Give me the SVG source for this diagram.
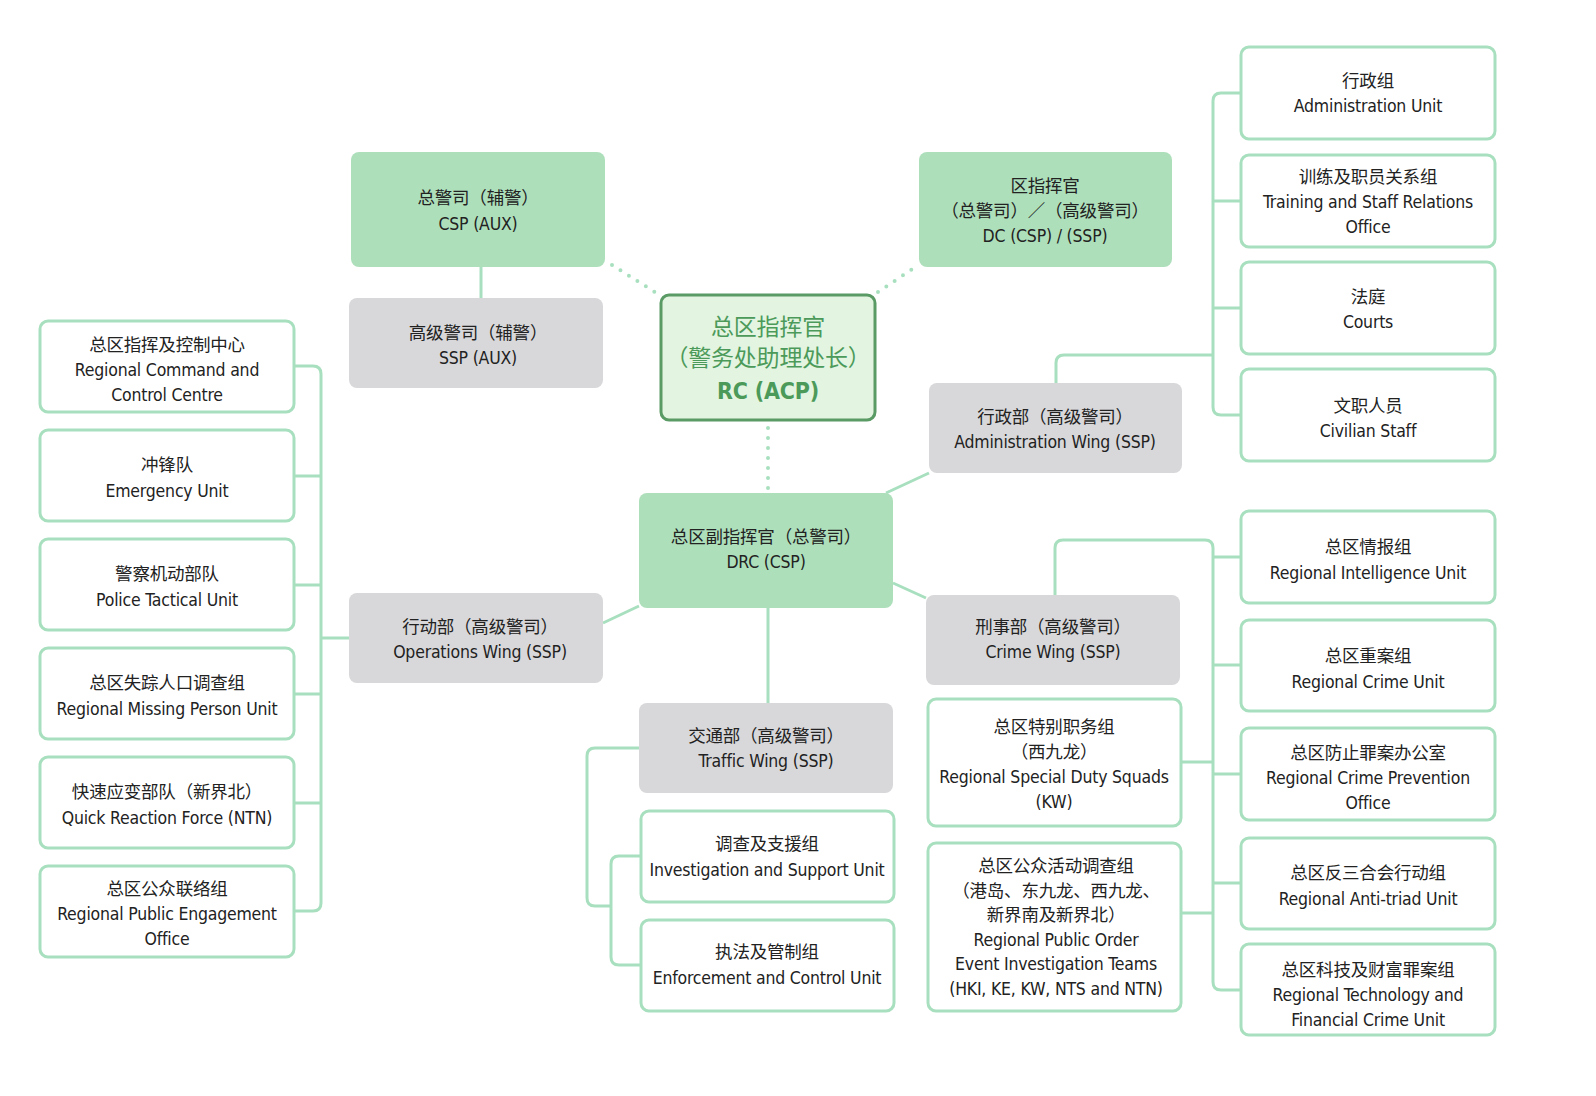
<svg xmlns="http://www.w3.org/2000/svg" width="1596" height="1096" viewBox="0 0 1596 1096">
<style>
.t{font-family:"DejaVu Sans Condensed","Noto Sans CJK SC",sans-serif;font-size:17.5px;letter-spacing:-0.2px;fill:#222;text-anchor:middle}
.o{fill:#fff;stroke:#a8e0bf;stroke-width:3}
.g{fill:#aedfbb}
.y{fill:#d8d8da}
.c{fill:none;stroke:#a8e0bf;stroke-width:3}
.d{fill:none;stroke:#a8e0bf;stroke-width:4;stroke-dasharray:0 10;stroke-linecap:round}
</style>
<rect width="1596" height="1096" fill="#fff"/>
<g id="connectors">
<path class="c" d="M294,366H313Q321,366 321,374V903Q321,911 313,911H294M294,476H321M294,585H321M294,694H321M294,803H321M321,638H349"/>
<path class="c" d="M481,267V298M886,493L929,473M893,583L926,598M603,623L639,606M768,608V703"/>
<path class="c" d="M639,748H595Q587,748 587,756V898Q587,906 595,906H611M641,856H619Q611,856 611,864V957Q611,965 619,965H641"/>
<path class="c" d="M1241,93H1221Q1213,93 1213,101V407Q1213,415 1221,415H1241M1241,201H1213M1241,308H1213M1056,383V363Q1056,355 1064,355H1213"/>
<path class="c" d="M1055,595V548Q1055,540 1063,540H1205Q1213,540 1213,548V982Q1213,990 1221,990H1241M1213,557H1241M1213,665H1241M1213,774H1241M1213,883H1241M1181,762H1213M1181,913H1213"/>
<path class="d" d="M612,265L658,294M878,292L914,268M768,428V490"/>
</g>
<g id="rc"><rect x="661" y="295" width="214" height="125" rx="8" fill="#e3f5e1" stroke="#5a9a64" stroke-width="3"/>
<text class="t" style="fill:#4c9a5a;font-size:23px" x="768" y="335">总区指挥官</text><text class="t" style="fill:#4c9a5a;font-size:23px" x="768" y="366">（警务处助理处长）</text><text class="t" style="fill:#4c9a5a;font-size:23px;font-weight:bold" x="768" y="399">RC (ACP)</text></g>
<g id="csp"><rect class="g" x="351" y="152" width="254" height="115" rx="8"/><text class="t" x="478" y="204">总警司（辅警）</text><text class="t" x="478" y="230">CSP (AUX)</text></g>
<g id="sspaux"><rect class="y" x="349" y="298" width="254" height="90" rx="8"/><text class="t" x="478" y="339">高级警司（辅警）</text><text class="t" x="478" y="364">SSP (AUX)</text></g>
<g id="dc"><rect class="g" x="919" y="152" width="253" height="115" rx="8"/><text class="t" x="1045" y="192">区指挥官</text><text class="t" x="1045" y="217">（总警司）／（高级警司）</text><text class="t" x="1045" y="242">DC (CSP) / (SSP)</text></g>
<g id="drc"><rect class="g" x="639" y="493" width="254" height="115" rx="8"/><text class="t" x="766" y="543">总区副指挥官（总警司）</text><text class="t" x="766" y="568">DRC (CSP)</text></g>
<g id="admw"><rect class="y" x="929" y="383" width="253" height="90" rx="8"/><text class="t" x="1055" y="423">行政部（高级警司）</text><text class="t" x="1055" y="448">Administration Wing (SSP)</text></g>
<g id="opw"><rect class="y" x="349" y="593" width="254" height="90" rx="8"/><text class="t" x="480" y="633">行动部（高级警司）</text><text class="t" x="480" y="658">Operations Wing (SSP)</text></g>
<g id="crw"><rect class="y" x="926" y="595" width="254" height="90" rx="8"/><text class="t" x="1053" y="633">刑事部（高级警司）</text><text class="t" x="1053" y="658">Crime Wing (SSP)</text></g>
<g id="trw"><rect class="y" x="639" y="703" width="254" height="90" rx="8"/><text class="t" x="766" y="742">交通部（高级警司）</text><text class="t" x="766" y="767">Traffic Wing (SSP)</text></g>
<g id="l1"><rect class="o" x="40" y="321" width="254" height="91" rx="8"/><text class="t" x="167" y="351">总区指挥及控制中心</text><text class="t" x="167" y="376">Regional Command and</text><text class="t" x="167" y="401">Control Centre</text></g>
<g id="l2"><rect class="o" x="40" y="430" width="254" height="91" rx="8"/><text class="t" x="167" y="471">冲锋队</text><text class="t" x="167" y="497">Emergency Unit</text></g>
<g id="l3"><rect class="o" x="40" y="539" width="254" height="91" rx="8"/><text class="t" x="167" y="580">警察机动部队</text><text class="t" x="167" y="606">Police Tactical Unit</text></g>
<g id="l4"><rect class="o" x="40" y="648" width="254" height="91" rx="8"/><text class="t" x="167" y="689">总区失踪人口调查组</text><text class="t" x="167" y="715">Regional Missing Person Unit</text></g>
<g id="l5"><rect class="o" x="40" y="757" width="254" height="91" rx="8"/><text class="t" x="167" y="798">快速应变部队（新界北）</text><text class="t" x="167" y="824">Quick Reaction Force (NTN)</text></g>
<g id="l6"><rect class="o" x="40" y="866" width="254" height="91" rx="8"/><text class="t" x="167" y="895">总区公众联络组</text><text class="t" x="167" y="920">Regional Public Engagement</text><text class="t" x="167" y="945">Office</text></g>
<g id="t1"><rect class="o" x="641" y="811" width="253" height="91" rx="8"/><text class="t" x="767" y="850">调查及支援组</text><text class="t" x="767" y="876">Investigation and Support Unit</text></g>
<g id="t2"><rect class="o" x="641" y="920" width="253" height="91" rx="8"/><text class="t" x="767" y="958">执法及管制组</text><text class="t" x="767" y="984">Enforcement and Control Unit</text></g>
<g id="c1"><rect class="o" x="928" y="699" width="253" height="127" rx="8"/><text class="t" x="1054" y="733">总区特别职务组</text><text class="t" x="1054" y="758">（西九龙）</text><text class="t" x="1054" y="783">Regional Special Duty Squads</text><text class="t" x="1054" y="808">(KW)</text></g>
<g id="c2"><rect class="o" x="928" y="843" width="253" height="168" rx="8"/><text class="t" x="1056" y="872">总区公众活动调查组</text><text class="t" x="1056" y="897">（港岛、东九龙、西九龙、</text><text class="t" x="1056" y="921">新界南及新界北）</text><text class="t" x="1056" y="946">Regional Public Order</text><text class="t" x="1056" y="970">Event Investigation Teams</text><text class="t" x="1056" y="995">(HKI, KE, KW, NTS and NTN)</text></g>
<g id="r1"><rect class="o" x="1241" y="47" width="254" height="92" rx="8"/><text class="t" x="1368" y="87">行政组</text><text class="t" x="1368" y="112">Administration Unit</text></g>
<g id="r2"><rect class="o" x="1241" y="155" width="254" height="92" rx="8"/><text class="t" x="1368" y="183">训练及职员关系组</text><text class="t" x="1368" y="208">Training and Staff Relations</text><text class="t" x="1368" y="233">Office</text></g>
<g id="r3"><rect class="o" x="1241" y="262" width="254" height="92" rx="8"/><text class="t" x="1368" y="303">法庭</text><text class="t" x="1368" y="328">Courts</text></g>
<g id="r4"><rect class="o" x="1241" y="369" width="254" height="92" rx="8"/><text class="t" x="1368" y="412">文职人员</text><text class="t" x="1368" y="437">Civilian Staff</text></g>
<g id="r5"><rect class="o" x="1241" y="511" width="254" height="92" rx="8"/><text class="t" x="1368" y="553">总区情报组</text><text class="t" x="1368" y="579">Regional Intelligence Unit</text></g>
<g id="r6"><rect class="o" x="1241" y="620" width="254" height="91" rx="8"/><text class="t" x="1368" y="662">总区重案组</text><text class="t" x="1368" y="688">Regional Crime Unit</text></g>
<g id="r7"><rect class="o" x="1241" y="728" width="254" height="92" rx="8"/><text class="t" x="1368" y="759">总区防止罪案办公室</text><text class="t" x="1368" y="784">Regional Crime Prevention</text><text class="t" x="1368" y="809">Office</text></g>
<g id="r8"><rect class="o" x="1241" y="838" width="254" height="91" rx="8"/><text class="t" x="1368" y="879">总区反三合会行动组</text><text class="t" x="1368" y="905">Regional Anti-triad Unit</text></g>
<g id="r9"><rect class="o" x="1241" y="944" width="254" height="91" rx="8"/><text class="t" x="1368" y="976">总区科技及财富罪案组</text><text class="t" x="1368" y="1001">Regional Technology and</text><text class="t" x="1368" y="1026">Financial Crime Unit</text></g>
</svg>
